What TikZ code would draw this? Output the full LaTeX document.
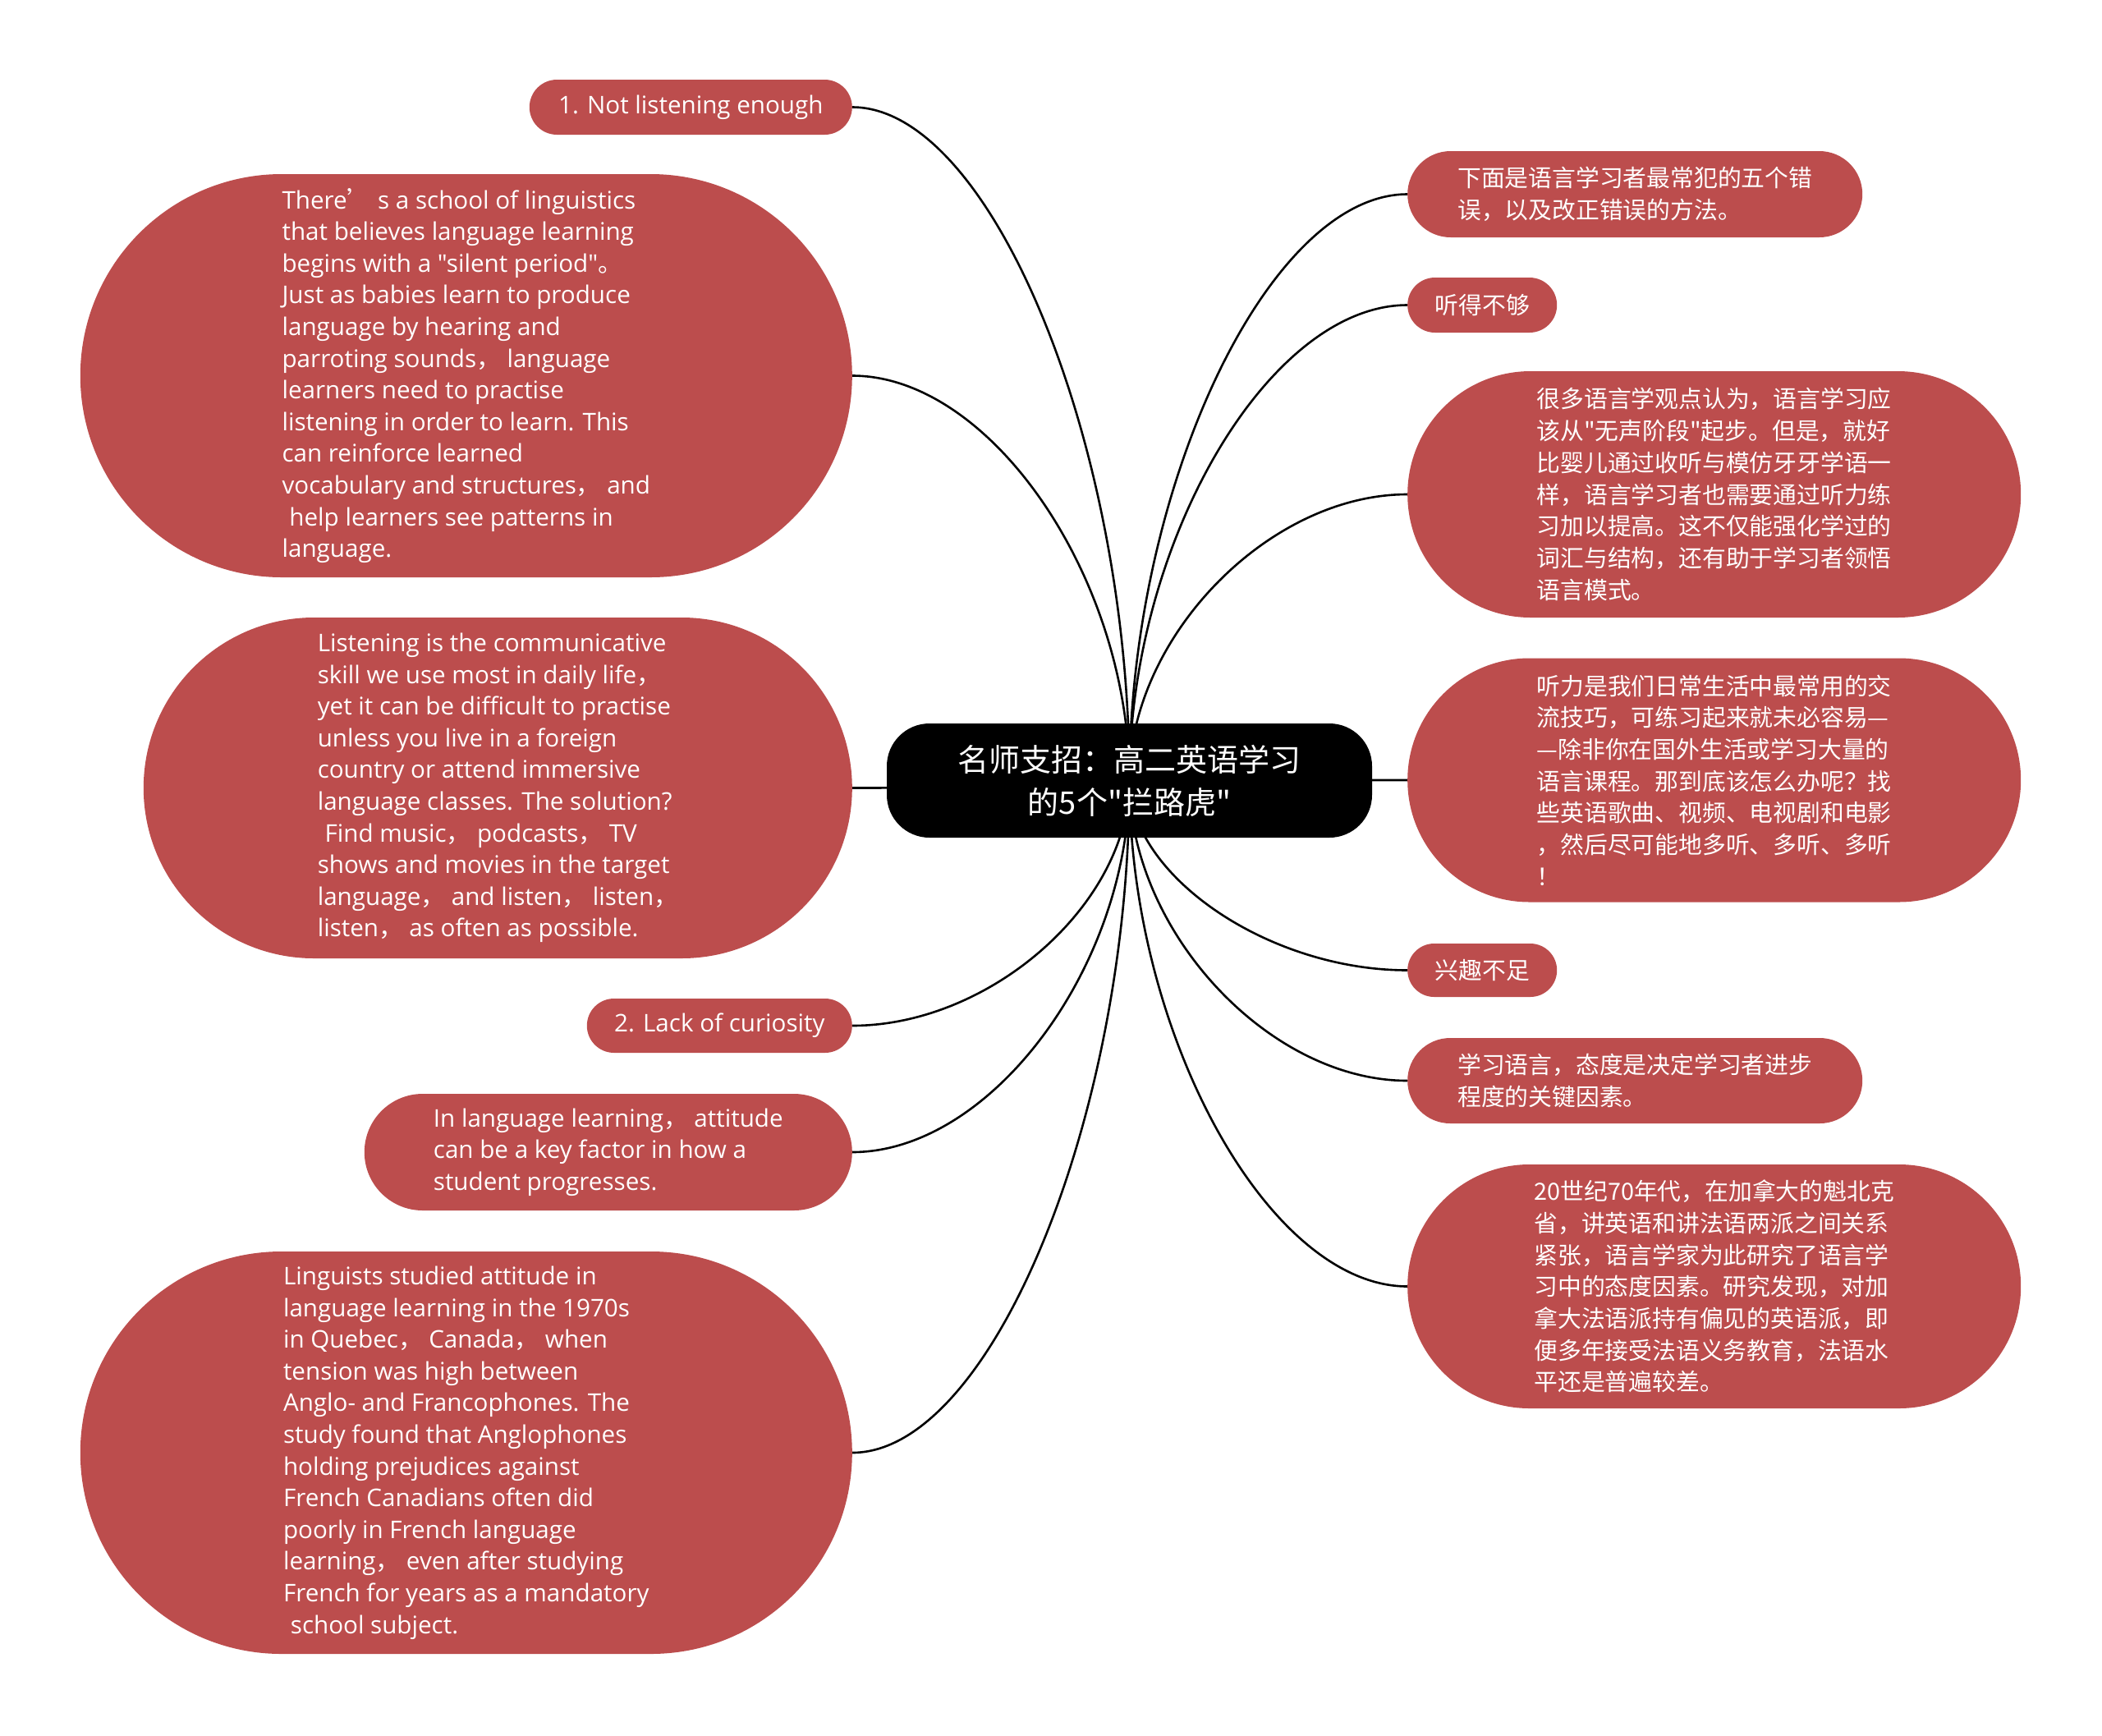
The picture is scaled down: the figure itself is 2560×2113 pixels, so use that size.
\documentclass[tikz,border=0pt]{standalone}
\usepackage{fontspec}
\setmainfont{Open Sans}[Ligatures=TeXOff]
\newfontfamily\cjk{Noto Sans CJK SC}
\usetikzlibrary{shapes.misc,calc,backgrounds}
\definecolor{nodered}{RGB}{188,77,77}
\newcommand\entxt{\fontsize{29.6}{38.6}\selectfont}
\newcommand\zhtxt{\cjk\fontsize{28.8}{38.7}\selectfont}
\newcommand\zp[1]{{\cjk #1}}% wide punctuation in english text

\begin{document}
\begin{tikzpicture}[x=1pt, y=-1pt,
	box/.style={rounded rectangle, fill=nodered, text=white, inner sep=0pt, align=left},
	en/.style={box, font=\entxt},
	zh/.style={box, font=\zhtxt},
	link/.style={line width=2.6pt, line cap=round},
	branch/.style={to path={let \p1=(\tikztostart), \p2=(\tikztotarget) in
		.. controls (\x1,{(\y1+\y2)/2}) and ({(\x1+\x2)/2},\y2) .. (\tikztotarget)}}]
	\useasboundingbox (0,0) rectangle (2560,2113);
	% central topic
	\node[fill=black, text=white, rounded corners=52pt, minimum width=591pt, minimum height=139pt,
		align=center, font={\cjk\fontsize{38}{52}\selectfont}] (ctr) at (1375.5,950.5)
		{名师支招：高二英语学习\\的5个"拦路虎"};
	% left side
	\node[en, anchor=east, minimum width=393pt, minimum height=67pt] (l1) at (1038,130.5) {1. Not listening enough};
	\node[en, anchor=east, minimum width=940pt, minimum height=491pt] (l2) at (1038,457.5)
		{There\zp{’} s a school of linguistics\\that believes language learning\\begins with a "silent period"\zp{。}\\Just as babies learn to produce\\language by hearing and\\parroting sounds\zp{，} language\\learners need to practise\\listening in order to learn. This\\can reinforce learned\\vocabulary and structures\zp{，} and\\\hspace*{.3em}help learners see patterns in\\language.};
	\node[en, anchor=east, minimum width=863pt, minimum height=415pt] (l3) at (1038,959.5)
		{Listening is the communicative\\skill we use most in daily life\zp{，}\\yet it can be difficult to practise\\unless you live in a foreign\\country or attend immersive\\language classes. The solution?\\\hspace*{.3em}Find music\zp{，} podcasts\zp{，} TV\\shows and movies in the target\\language\zp{，} and listen\zp{，} listen\zp{，}\\listen\zp{，} as often as possible.};
	\node[en, anchor=east, minimum width=323pt, minimum height=66pt] (l4) at (1038,1249) {2. Lack of curiosity};
	\node[en, anchor=east, minimum width=594pt, minimum height=142pt] (l5) at (1038,1403)
		{In language learning\zp{，} attitude\\can be a key factor in how a\\student progresses.};
	\node[en, anchor=east, minimum width=940pt, minimum height=490pt] (l6) at (1038,1769)
		{Linguists studied attitude in\\language learning in the 1970s\\in Quebec\zp{，} Canada\zp{，} when\\tension was high between\\Anglo- and Francophones. The\\study found that Anglophones\\holding prejudices against\\French Canadians often did\\poorly in French language\\learning\zp{，} even after studying\\French for years as a mandatory\\\hspace*{.3em}school subject.};
	% right side
	\node[zh, anchor=west, minimum width=554pt, minimum height=105pt] (r1) at (1714,236.5)
		{下面是语言学习者最常犯的五个错\\误，以及改正错误的方法。};
	\node[zh, anchor=west, minimum width=182pt, minimum height=67pt] (r2) at (1714,371.5) {听得不够};
	\node[zh, anchor=west, minimum width=747pt, minimum height=300pt] (r3) at (1714,602)
		{很多语言学观点认为，语言学习应\\该从"无声阶段"起步。但是，就好\\比婴儿通过收听与模仿牙牙学语一\\样，语言学习者也需要通过听力练\\习加以提高。这不仅能强化学过的\\词汇与结构，还有助于学习者领悟\\语言模式。};
	\node[zh, anchor=west, minimum width=747pt, minimum height=297pt] (r4) at (1714,950)
		{听力是我们日常生活中最常用的交\\流技巧，可练习起来就未必容易—\\—除非你在国外生活或学习大量的\\语言课程。那到底该怎么办呢？找\\些英语歌曲、视频、电视剧和电影\\，然后尽可能地多听、多听、多听\\！};
	\node[zh, anchor=west, minimum width=182pt, minimum height=65pt] (r5) at (1714,1181.5) {兴趣不足};
	\node[zh, anchor=west, minimum width=554pt, minimum height=104pt] (r6) at (1714,1316)
		{学习语言，态度是决定学习者进步\\程度的关键因素。};
	\node[zh, anchor=west, minimum width=747pt, minimum height=297pt] (r7) at (1714,1566.5)
		{20世纪70年代，在加拿大的魁北克\\省，讲英语和讲法语两派之间关系\\紧张，语言学家为此研究了语言学\\习中的态度因素。研究发现，对加\\拿大法语派持有偏见的英语派，即\\便多年接受法语义务教育，法语水\\平还是普遍较差。};
	% branches behind the boxes
	\begin{scope}[on background layer]
		\foreach \i in {1,...,6} \draw[link] (ctr.center) to[branch] (l\i.east);
		\foreach \i in {1,...,7} \draw[link] (ctr.center) to[branch] (r\i.west);
	\end{scope}
\end{tikzpicture}
\end{document}
